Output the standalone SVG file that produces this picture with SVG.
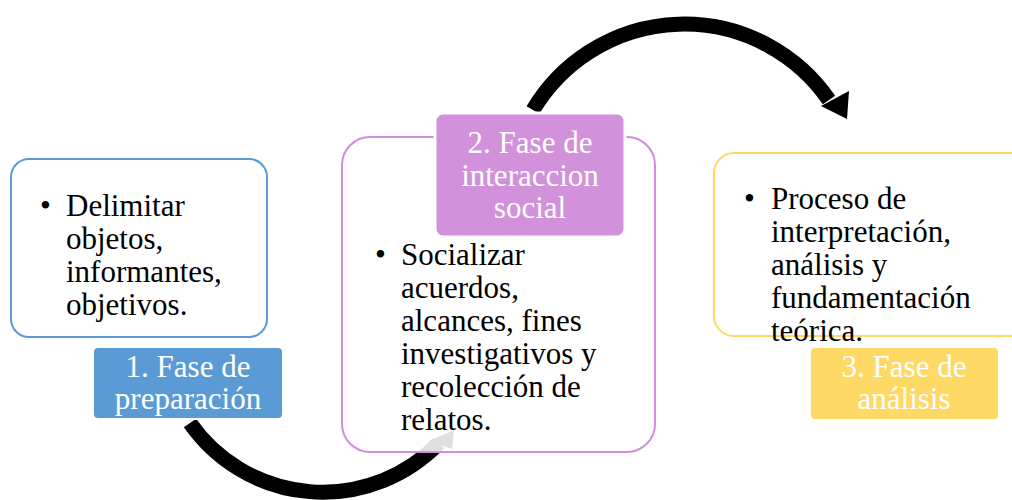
<svg xmlns="http://www.w3.org/2000/svg" width="1012" height="500" viewBox="0 0 1012 500">
<style>
.t{font-family:"Liberation Serif","Times New Roman",serif;font-size:31px;fill:#000}
.l{font-family:"Liberation Serif","Times New Roman",serif;font-size:31px;fill:#fff;text-anchor:middle}
.box{fill:#fff;fill-opacity:0.88;stroke-width:2}
.arc{fill:none;stroke:#000;stroke-width:15}
</style>
<rect width="1012" height="500" fill="#fff"/>
<g id="connectors">
<path class="arc" d="M190,423 A162,162 0 0 0 439,443"/>
<polygon points="429,441 454,430 452,449" fill="#000"/>
<path class="arc" d="M533,110 A176,176 0 0 1 829,100"/>
<polygon points="821,106 849,91 847,119" fill="#000"/>
</g>
<g id="node1">
<rect class="box" x="11" y="159" width="256" height="178" rx="18" stroke="#5b9bd5"/>
<text class="t" x="40" y="216">•</text>
<text class="t"><tspan x="66" y="216">Delimitar</tspan><tspan x="66" y="249">objetos,</tspan><tspan x="66" y="282">informantes,</tspan><tspan x="66" y="315">objetivos.</tspan></text>
<rect x="93" y="347" width="190" height="72" rx="5" fill="#5b9bd5" stroke="#fff" stroke-width="2"/>
<text class="l"><tspan x="188" y="377">1. Fase de</tspan><tspan x="188" y="409">preparación</tspan></text>
</g>
<g id="node2">
<rect class="box" x="342" y="137" width="313" height="315" rx="28" stroke="#cf8fdb"/>
<text class="t" x="375" y="265">•</text>
<text class="t"><tspan x="401" y="265">Socializar</tspan><tspan x="401" y="298">acuerdos,</tspan><tspan x="401" y="331">alcances, fines</tspan><tspan x="401" y="364">investigativos y</tspan><tspan x="401" y="397">recolección de</tspan><tspan x="401" y="430">relatos.</tspan></text>
<rect x="435" y="113" width="190" height="124" rx="8" fill="#d191db" stroke="#fff" stroke-width="3"/>
<text class="l"><tspan x="530" y="153">2. Fase de</tspan><tspan x="530" y="186">interaccion</tspan><tspan x="530" y="218">social</tspan></text>
</g>
<g id="node3">
<rect class="box" x="714" y="153" width="320" height="183" rx="20" stroke="#ffd966"/>
<text class="t" x="744" y="209">•</text>
<text class="t"><tspan x="771" y="209">Proceso de</tspan><tspan x="771" y="242">interpretación,</tspan><tspan x="771" y="275">análisis y</tspan><tspan x="771" y="308">fundamentación</tspan><tspan x="771" y="341">teórica.</tspan></text>
<rect x="810" y="347" width="189" height="73" rx="5" fill="#ffd966" stroke="#fff" stroke-width="2"/>
<text class="l"><tspan x="904" y="377">3. Fase de</tspan><tspan x="904" y="409">análisis</tspan></text>
</g>
</svg>
